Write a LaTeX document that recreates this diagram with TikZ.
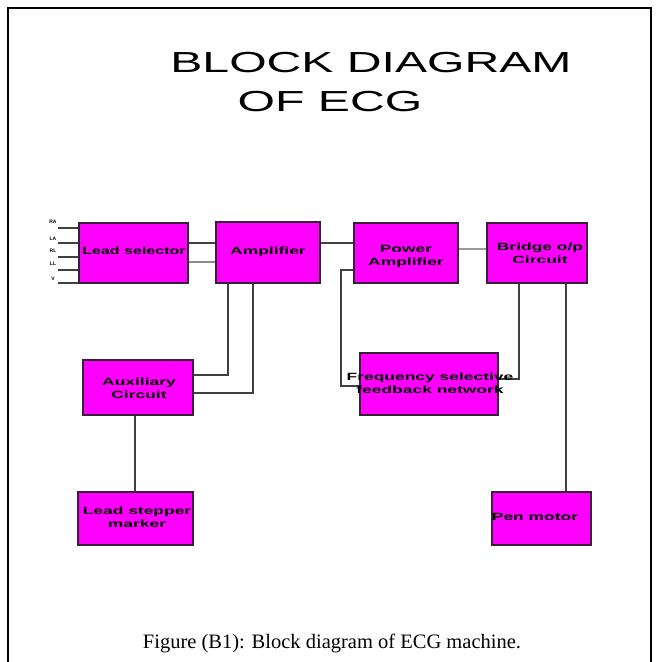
\documentclass[tikz,border=0pt]{standalone}
\usepackage{fontspec}
\setmainfont{Liberation Serif}
\setsansfont{Liberation Sans}
\usepackage{graphicx}
\newcommand{\bxt}[1]{\scalebox{1.66}[1]{\begin{tabular}{@{}c@{}}#1\end{tabular}}}
\definecolor{mag}{HTML}{FF00FF}
\definecolor{edge}{HTML}{3A1F3A}
\begin{document}
\begin{tikzpicture}[x=1pt,y=-1pt,
  blk/.style={draw=edge,line width=1.6pt,fill=mag,inner sep=0pt},
  txt/.style={inner sep=0pt,font=\fontsize{10.5}{13}\selectfont\sffamily\bfseries},
  wire/.style={draw=black!75,line width=1.9pt},
  leadlbl/.style={font=\fontsize{5}{5}\selectfont\sffamily\bfseries,inner sep=0pt}]
\useasboundingbox (0,0) rectangle (660,662);
\fill[white] (0,0) rectangle (660,662);
\draw[line width=2.5pt] (8,662) -- (8,8) -- (651,8) -- (651,662);
% title
\node[font=\fontsize{29}{33}\selectfont\sffamily,inner sep=0pt] (t1) at (371,63) {\scalebox{1.66}[1]{BLOCK DIAGRAM}};
\node[font=\fontsize{29}{33}\selectfont\sffamily,inner sep=0pt] (t2) at (330,102) {\scalebox{1.66}[1]{OF ECG}};
% blocks
\node[blk,minimum width=109pt,minimum height=60pt] (sel) at (133.5,253) {};
\node[blk,minimum width=104pt,minimum height=61pt] (amp) at (268,252.5) {};
\node[blk,minimum width=104pt,minimum height=60pt] (pow) at (406,253) {};
\node[blk,minimum width=100pt,minimum height=60pt] (brg) at (537,253) {};
\node[blk,minimum width=110pt,minimum height=55pt] (aux) at (138,387.5) {};
\node[blk,minimum width=138pt,minimum height=62pt] (frq) at (429,384) {};
\node[blk,minimum width=115pt,minimum height=53pt] (mrk) at (135.5,518.5) {};
\node[blk,minimum width=99pt,minimum height=53pt] (pen) at (541.5,518.5) {};
% lead inputs
\coordinate (l1) at (58,228);
\coordinate (l2) at (58,243);
\coordinate (l3) at (58,257);
\coordinate (l4) at (58,270);
\coordinate (l5) at (58,283);
\foreach \i in {1,...,5}{\draw[wire] (l\i) -- (sel.west |- l\i);}
\node[leadlbl] (r1) at (53,222) {RA};
\node[leadlbl] (r2) at (53,239) {LA};
\node[leadlbl] (r3) at (53,251) {RL};
\node[leadlbl] (r4) at (53,264) {LL};
\node[leadlbl] (r5) at (53,279) {V};
% connectors
\draw[wire] (sel.east |- 0,243) -- (amp.west |- 0,243);
\draw[wire,draw=black!45] (sel.east |- 0,262) -- (amp.west |- 0,262);
\draw[wire] (amp.east |- 0,243) -- (pow.west |- 0,243);
\draw[wire,draw=black!40] (pow.east |- 0,249) -- (brg.west |- 0,249);
\draw[wire] (pow.west |- 0,270) -- (341,270) -- (341,386) -- (frq.west |- 0,386);
\draw[wire] (brg.south -| 519,0) -- (519,379) -- (frq.east |- 0,379);
\draw[wire] (brg.south -| 566,0) -- (pen.north -| 566,0);
\draw[wire] (aux.east |- 0,375) -- (228,375) -- (amp.south -| 228,0);
\draw[wire] (aux.east |- 0,393) -- (253,393) -- (amp.south -| 253,0);
\draw[wire] (aux.south -| 135,0) -- (mrk.north -| 135,0);
% block texts (on top of connectors)
\node[txt] (selt) at (134,252) {\scalebox{0.92}[1]{\bxt{Lead selector}}};
\node[txt] (ampt) at (268,252) {\bxt{Amplifier}};
\node[txt] (powt) at (406,256) {\bxt{Power\\Amplifier}};
\node[txt] (brgt) at (540,254) {\bxt{Bridge o/p\\Circuit}};
\node[txt] (auxt) at (139,389) {\bxt{Auxiliary\\Circuit}};
\node[txt] (frqt) at (430,384) {\bxt{Frequency selective\\feedback network}};
\node[txt] (mrkt) at (137,518) {\bxt{Lead stepper\\marker}};
\node[txt] (pent) at (535,518) {\bxt{Pen motor}};
% caption
\node[font=\fontsize{20.5}{24}\selectfont,inner sep=0pt,anchor=base] (cap) at (332,648) {Figure (B1): Block diagram of ECG machine.};
\end{tikzpicture}
\end{document}
